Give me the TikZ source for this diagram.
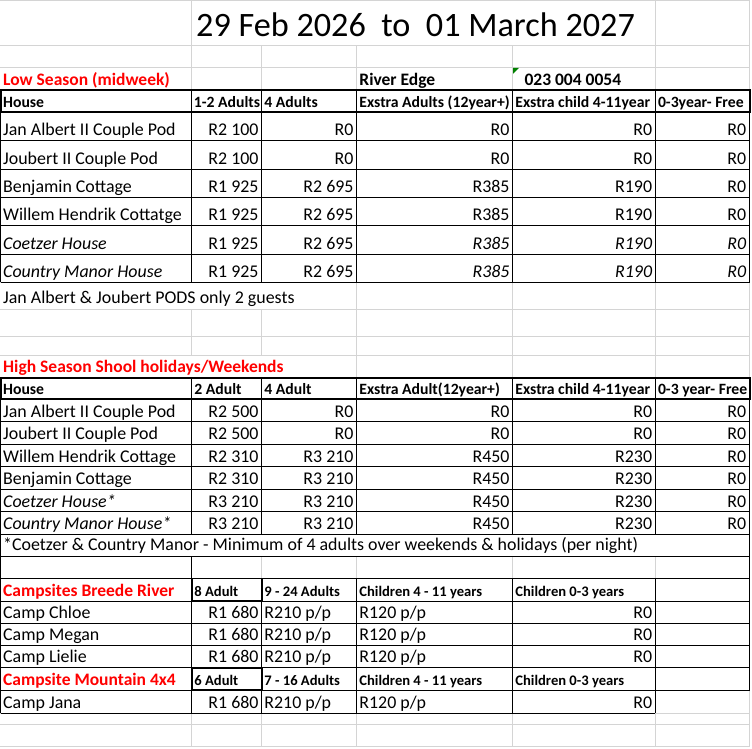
\documentclass[tikz,border=0pt]{standalone}
\usepackage{fontspec}
\setmainfont{Carlito}
\definecolor{gridgrey}{RGB}{212,212,212}
\definecolor{xlred}{RGB}{255,0,0}
\definecolor{xlgreen}{RGB}{0,128,0}
\tikzset{
  txtL/.style={anchor=base west,inner sep=0pt,font=\fontsize{17.9}{20}\selectfont},
  txtR/.style={anchor=base east,inner sep=0pt,font=\fontsize{17.9}{20}\selectfont},
  headL/.style={anchor=base west,inner sep=0pt,font=\fontsize{15.7}{18}\selectfont\bfseries},
  campL/.style={anchor=base west,inner sep=0pt,font=\fontsize{14.6}{17}\selectfont\bfseries},
  boldL/.style={anchor=base west,inner sep=0pt,font=\fontsize{17.5}{20}\selectfont\bfseries},
  redL/.style={boldL,text=xlred},
  gridline/.style={gridgrey,line width=1pt},
  cellrule/.style={black,line width=1pt},
  boldrule/.style={black,line width=2pt},
}
\begin{document}
\begin{tikzpicture}[x=1pt,y=-1pt]
\fill[white] (0,0) rectangle (752,748);
\useasboundingbox (0,0) rectangle (752,748);
% sheet grid
\foreach \y in {0.5,45,67.3,90,112,140,169,197.3,225.7,254,282.3,309.3,336,355,377.7,399,421.7,444.3,466.7,489.3,511.7,534.3,556.7,578.3,601,623.3,645,667.7,690,713.3,724.3,746.7}
  \draw[gridline] (0,\y) -- (749.5,\y);
\draw[gridline] (191.7,0) -- (191.7,282.3) (191.7,309.3) -- (191.7,355) (191.7,377.7) -- (191.7,534.3) (191.7,556.7) -- (191.7,746.7);
\draw[gridline] (261.7,45) -- (261.7,282.3) (261.7,309.3) -- (261.7,355) (261.7,377.7) -- (261.7,534.3) (261.7,556.7) -- (261.7,746.7);
\foreach \x in {356.7,512.7}
  \draw[gridline] (\x,45) -- (\x,534.3) (\x,556.7) -- (\x,746.7);
\draw[gridline] (655.3,0) -- (655.3,534.3) (655.3,556.7) -- (655.3,746.7);
\draw[gridline] (749.5,0) -- (749.5,746.7);
% low season borders
\foreach \y in {140,169,197.3,225.7,254,282.3}
  \draw[cellrule] (0.5,\y) -- (749.5,\y);
\foreach \x in {0.5,191.7,261.7,356.7,512.7,655.3,749.5}
  \draw[cellrule] (\x,90) -- (\x,282.3);
\draw[boldrule] (0.5,90) rectangle (749.5,112);
% high season borders
\foreach \y in {421.7,444.3,466.7,489.3,511.7,534.3,556.7}
  \draw[cellrule] (0.5,\y) -- (749.5,\y);
\foreach \x in {191.7,261.7,356.7,512.7,655.3}
  \draw[cellrule] (\x,377.7) -- (\x,534.3);
\draw[cellrule] (0.5,377.7) -- (0.5,556.7) (749.5,377.7) -- (749.5,556.7);
\draw[boldrule] (0.5,377.7) rectangle (749.5,399);
% campsite borders
\foreach \y in {578.3,601,623.3,645,667.7,690}
  \draw[cellrule] (0.5,\y) -- (749.5,\y);
\draw[cellrule] (0.5,713.3) -- (655.3,713.3);
\foreach \x in {261.7,356.7,512.7,655.3}
  \draw[cellrule] (\x,578.3) -- (\x,713.3);
\draw[cellrule] (0.5,556.7) -- (0.5,713.3) (191.7,556.7) -- (191.7,713.3) (749.5,556.7) -- (749.5,690);
\draw[black,line width=1.6pt] (191.7,578.3) rectangle (261.7,601) (191.7,667.7) rectangle (261.7,690);
\fill[xlgreen] (513.2,67.8) -- (519,67.8) -- (513.2,73.6) -- cycle;
% title and headings
\node[anchor=base west,inner sep=0pt,font=\fontsize{34.2}{40}\selectfont] (title) at (196,36) {29 Feb 2026\ \ to\ \ 01 March 2027};
\node[redL] (lowtitle) at (3,85) {Low Season (midweek)};
\node[boldL] (venue) at (359.2,85) {River Edge};
\node[boldL] (phone) at (524.3,85) {023 004 0054};
\foreach \n/\x/\t in {0/3/House,1/193.7/1-2 Adults,2/264.2/4 Adults,3/359.2/Exstra Adults (12year+),4/515.2/Exstra child 4-11year,5/657.8/0-3year- Free}
  \node[headL] (lowhead-\n) at (\x,107) {\t};
\foreach \n/\y/\h/\a/\b/\c/\d/\e in {
  1/135/Jan Albert II Couple Pod/R2 100/R0/R0/R0/R0,
  2/164/Joubert II Couple Pod/R2 100/R0/R0/R0/R0,
  3/192.3/Benjamin Cottage/R1 925/R2 695/R385/R190/R0,
  4/220.7/Willem Hendrik Cottatge/R1 925/R2 695/R385/R190/R0,
  5/249/\itshape Coetzer House/R1 925/R2 695/\itshape R385/\itshape R190/\itshape R0,
  6/277.3/\itshape Country Manor House/R1 925/R2 695/\itshape R385/\itshape R190/\itshape R0}
{
  \node[txtL] (low\n-0) at (3,\y) {\h};
  \node[txtR] (low\n-1) at (258.7,\y) {\a};
  \node[txtR] (low\n-2) at (353.7,\y) {\b};
  \node[txtR] (low\n-3) at (509.7,\y) {\c};
  \node[txtR] (low\n-4) at (652.3,\y) {\d};
  \node[txtR] (low\n-5) at (746.3,\y) {\e};
}
\node[txtL] (lownote) at (3,303.5) {Jan Albert \& Joubert PODS only 2 guests};
\node[redL] (hightitle) at (3,372) {High Season Shool holidays/Weekends};
\foreach \n/\x/\t in {0/3/House,1/194.2/2 Adult,2/264.2/4 Adult,3/359.2/Exstra Adult(12year+),4/515.2/Exstra child 4-11year,5/657.8/0-3 year- Free}
  \node[headL] (highhead-\n) at (\x,394) {\t};
\foreach \n/\y/\h/\a/\b/\c/\d/\e in {
  1/417/Jan Albert II Couple Pod/R2 500/R0/R0/R0/R0,
  2/439.5/Joubert II Couple Pod/R2 500/R0/R0/R0/R0,
  3/462/Willem Hendrik Cottage/R2 310/R3 210/R450/R230/R0,
  4/484.5/Benjamin Cottage/R2 310/R3 210/R450/R230/R0,
  5/507/\itshape Coetzer House*/R3 210/R3 210/R450/R230/R0,
  6/529.5/\itshape Country Manor House*/R3 210/R3 210/R450/R230/R0}
{
  \node[txtL] (high\n-0) at (3,\y) {\h};
  \node[txtR] (high\n-1) at (258.7,\y) {\a};
  \node[txtR] (high\n-2) at (353.7,\y) {\b};
  \node[txtR] (high\n-3) at (509.7,\y) {\c};
  \node[txtR] (high\n-4) at (652.3,\y) {\d};
  \node[txtR] (high\n-5) at (746.3,\y) {\e};
}
\node[txtL] (highnote) at (3,550.5) {*Coetzer \& Country Manor - Minimum of 4 adults over weekends \& holidays (per night)};
% campsites
\node[redL] (breede) at (3,596) {Campsites Breede River};
\node[redL] (mountain) at (3,685) {Campsite Mountain 4x4};
\foreach \n/\y/\a/\b in {1/596/8 Adult/9 - 24 Adults,2/685/6 Adult/7 - 16 Adults}
{
  \node[campL] (camphead\n-1) at (194.2,\y) {\a};
  \node[campL] (camphead\n-2) at (264.2,\y) {\b};
  \node[campL] (camphead\n-3) at (359.2,\y) {Children 4 - 11 years};
  \node[campL] (camphead\n-4) at (515.2,\y) {Children 0-3 years};
}
\foreach \n/\y/\h in {1/618/Camp Chloe,2/640/Camp Megan,3/662.5/Camp Lielie,4/708/Camp Jana}
{
  \node[txtL] (camp\n-0) at (3,\y) {\h};
  \node[txtR] (camp\n-1) at (258.7,\y) {R1 680};
  \node[txtL] (camp\n-2) at (264.2,\y) {R210 p/p};
  \node[txtL] (camp\n-3) at (359.2,\y) {R120 p/p};
  \node[txtR] (camp\n-4) at (652.3,\y) {R0};
}
\end{tikzpicture}
\end{document}
